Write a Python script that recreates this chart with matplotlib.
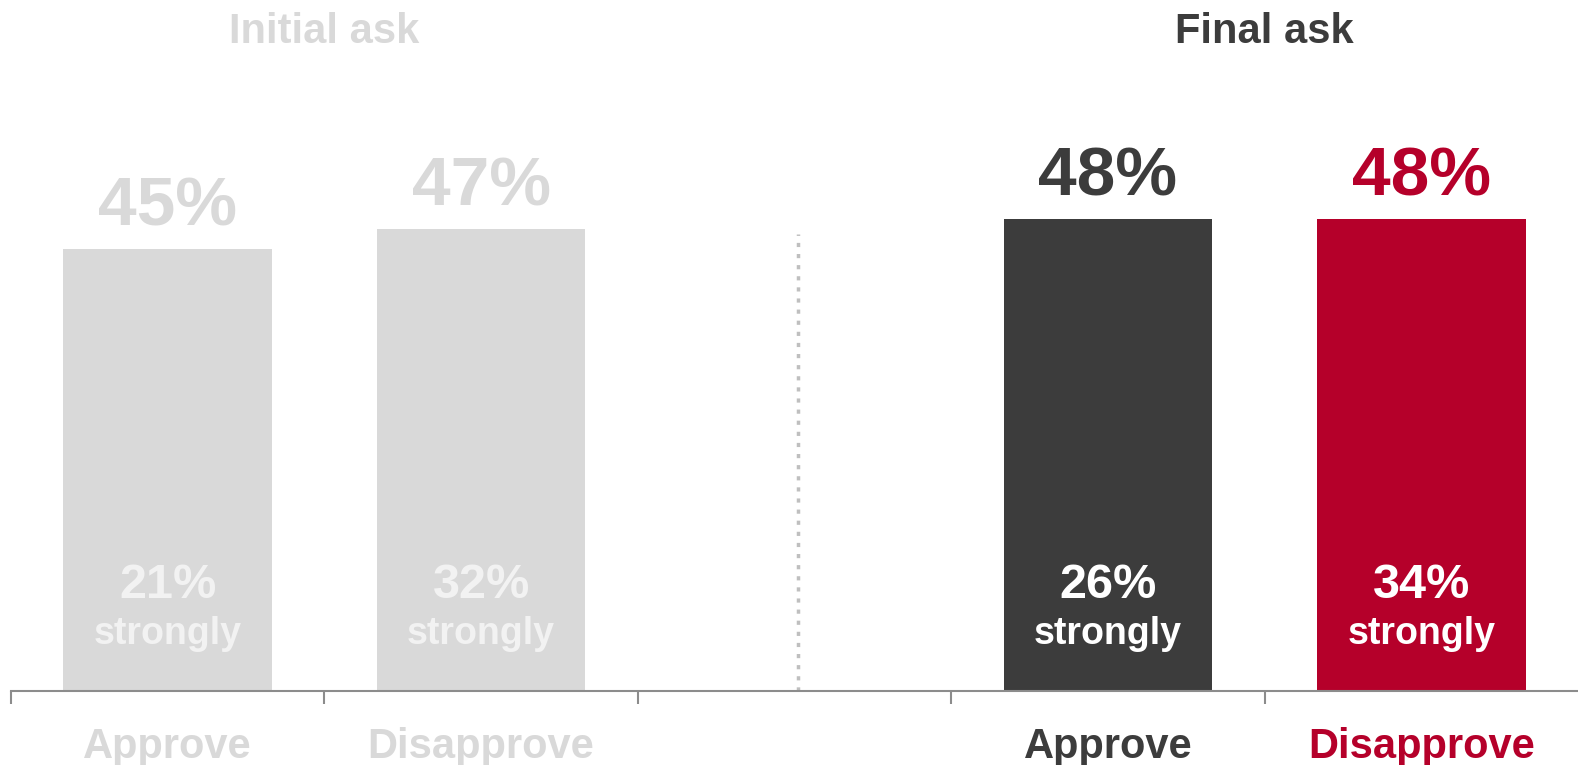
import matplotlib.pyplot as plt

plt.rcParams["font.family"] = ["Liberation Sans", "DejaVu Sans"]
plt.rcParams["font.weight"] = "bold"

# survey results, initial vs final ask
positions = [0, 1, 3, 4]
labels = ["Approve", "Disapprove", "Approve", "Disapprove"]
totals = [45, 47, 48, 48]
strongly = [21, 32, 26, 34]
bar_colors = ["#d9d9d9", "#d9d9d9", "#3c3c3c", "#b5002a"]
text_colors = ["#d9d9d9", "#d9d9d9", "#3c3c3c", "#b5002a"]
inner_colors = ["#f2f2f2", "#f2f2f2", "white", "white"]
groups = ["Initial ask", "Final ask"]
group_pos = [0.5, 3.5]
group_colors = ["#d9d9d9", "#3c3c3c"]

fig = plt.figure(figsize=(15.78, 7.65), dpi=100)
ax = fig.add_axes([11 / 1578, 74 / 765, 1567 / 1578, 691 / 765])

ax.bar(positions, totals, width=0.665, color=bar_colors)

ax.set_xlim(-0.5, 4.5)
ax.set_ylim(0, 691 / 9.83)

# big totals above the bars
for x, v, c in zip(positions, totals, text_colors):
    ax.annotate(f"{v}%", (x, v), xytext=(0, 17), textcoords="offset points",
                ha="center", va="baseline", fontsize=50, color=c)

# "strongly" share inside the bars
for x, s, c in zip(positions, strongly, inner_colors):
    ax.text(x, 10.7, f"{s}%", ha="center", va="center", fontsize=35, color=c)
    ax.text(x, 5.75, "strongly", ha="center", va="center", fontsize=27, color=c)

# dotted divider between the two asks
ax.plot([2.01, 2.01], [0, 46.5], linestyle=(0, (1.2, 2.0)), color="#bfbfbf", lw=2.5)

# group headings
for x, g, c in zip(group_pos, groups, group_colors):
    ax.text(x, 0.953, g, transform=ax.get_xaxis_transform(), ha="center",
            va="center", fontsize=30, color=c)

# category labels under the axis
for x, lbl, c in zip(positions, labels, text_colors):
    ax.text(x, -0.081, lbl, transform=ax.get_xaxis_transform(), ha="center",
            va="center", fontsize=30, color=c)

# axis: boundary ticks only
for s in ["top", "right", "left"]:
    ax.spines[s].set_visible(False)
ax.spines["bottom"].set_color("#8c8c8c")
ax.spines["bottom"].set_linewidth(1.5)
ax.set_yticks([])
ax.set_xticks([-0.5, 0.5, 1.5, 2.5, 3.5])
ax.set_xticklabels([])
ax.tick_params(axis="x", length=9, width=1.5, color="#8c8c8c", direction="out")

fig.savefig("out.png", dpi=100)
